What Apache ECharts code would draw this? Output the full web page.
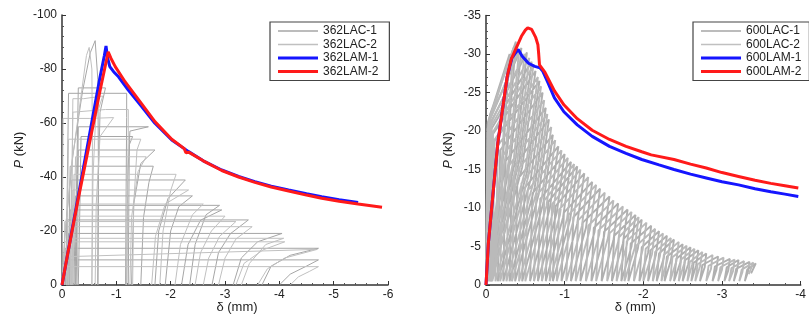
<!DOCTYPE html>
<html>
<head>
<meta charset="utf-8">
<script src="https://cdn.jsdelivr.net/npm/echarts@6/dist/echarts.min.js"></script>
<style>
html,body{margin:0;padding:0;background:#fff;}
#chart{width:809px;height:324px;}
</style>
</head>
<body>
<div id="chart"></div>
<script>
// ---------------- DATA ----------------
const leftNames = ['362LAC-1', '362LAC-2', '362LAM-1', '362LAM-2'];
const rightNames = ['600LAC-1', '600LAC-2', '600LAM-1', '600LAM-2'];

const leftXRange = [-6, 0];
const leftYRange = [-100, 0];
const rightXRange = [-4, 0];
const rightYRange = [-35, 0];

// cyclic specimen 362LAC-1 : one array per loading cycle
const left_LAC1 = [
  [[0,0],[-0.06,-20],[-0.2,-48],[-0.38,-72],[-0.52,-86],[-0.61,-90.5],[-0.66,-76],[-0.67,-45],[-0.66,0]],
  [[-0.66,0],[-0.67,-40],[-0.7,-64],[-0.8,-73],[-0.3,-73],[-0.27,-40],[-0.24,0]],
  [[-1.17,0],[-1.18,-35],[-1.19,-62],[-1.19,-71],[-0.6,-71],[-0.12,-71],[-0.1,-40],[-0.07,0]],
  [[-1.19,0],[-1.21,-40],[-1.25,-57],[-1.59,-58.6],[-0.3,-58.6],[-0.28,-30],[-0.25,0]],
  [[-1.22,0],[-1.23,-30],[-1.24,-52],[-1.3,-55],[-0.35,-55],[-0.33,-30],[-0.3,0]],
  [[-1.28,0],[-1.32,-30],[-1.45,-45],[-1.71,-50],[-0.3,-50],[-0.28,-25],[-0.26,0]],
  [[-1.45,0],[-1.5,-25],[-1.6,-38],[-1.68,-44],[-0.15,-44],[-0.13,-20],[-0.11,0]],
  [[-1.71,0],[-1.78,-20],[-1.95,-32],[-2.27,-38.9],[-0.18,-38.9],[-0.16,-20],[-0.14,0]],
  [[-1.9,0],[-2.0,-20],[-2.15,-29],[-2.4,-33],[-0.25,-33],[-0.22,0]],
  [[-2.2,0],[-2.32,-15],[-2.55,-24],[-2.94,-27.8],[-0.15,-27.8],[-0.13,0]],
  [[-2.35,0],[-2.45,-15],[-2.65,-26],[-2.9,-29.5],[-0.2,-29.5],[-0.18,0]],
  [[-2.76,0],[-2.88,-12],[-3.1,-19],[-3.43,-24.1],[-0.1,-24.1],[-0.08,0]],
  [[-3.15,0],[-3.3,-10],[-3.6,-16],[-4.05,-19.1],[-0.12,-19.1],[-0.1,0]],
  [[-3.68,0],[-3.85,-7],[-4.2,-11],[-4.72,-13.6],[-0.06,-13.6],[-0.05,0]],
  [[-4.0,0],[-4.2,-4],[-4.5,-7],[-4.72,-9.3],[-0.08,-9.3],[-0.07,0]]
];
// cyclic specimen 362LAC-2
const left_LAC2 = [
  [[0,0],[-0.05,-18],[-0.18,-45],[-0.35,-70],[-0.45,-85],[-0.5,-88],[-0.55,-80],[-0.56,-50],[-0.55,0]],
  [[-0.55,0],[-0.57,-40],[-0.62,-62],[-0.75,-70],[-0.4,-69],[-0.2,-69],[-0.18,-35],[-0.15,0]],
  [[-0.61,0],[-0.63,-30],[-0.7,-55],[-0.95,-62],[-0.5,-61.7],[-0.02,-61.7],[-0.01,-30],[0,0]],
  [[-1.19,0],[-1.2,-30],[-1.22,-55],[-1.22,-65],[-0.8,-65],[-0.2,-64],[-0.18,-30],[-0.16,0]],
  [[-1.3,0],[-1.32,-30],[-1.38,-50],[-1.45,-54],[-0.12,-54],[-0.1,-25],[-0.09,0]],
  [[-1.25,0],[-1.28,-25],[-1.4,-42],[-1.55,-47.5],[-0.25,-47.5],[-0.22,-20],[-0.2,0]],
  [[-1.8,0],[-1.86,-20],[-2.0,-35],[-2.1,-41],[-0.22,-41],[-0.2,0]],
  [[-1.65,0],[-1.72,-18],[-1.9,-30],[-2.33,-35.2],[-0.2,-35.2],[-0.18,0]],
  [[-2.08,0],[-2.18,-15],[-2.4,-26],[-2.6,-30],[-0.3,-30],[-0.28,0]],
  [[-2.45,0],[-2.55,-12],[-2.75,-20],[-3.0,-25.5],[-0.2,-25.5],[-0.18,0]],
  [[-2.6,0],[-2.7,-10],[-2.9,-18],[-3.2,-23.5],[-0.05,-23.5],[-0.04,0]],
  [[-2.88,0],[-3.0,-10],[-3.2,-17],[-3.5,-21.6],[-0.1,-21.6],[-0.08,0]],
  [[-3.2,0],[-3.35,-8],[-3.7,-13],[-4.1,-16],[-0.05,-16],[-0.04,0]],
  [[-3.3,0],[-3.45,-8],[-3.75,-15],[-4.08,-17.3],[-0.14,-17.3],[-0.12,0]],
  [[-3.6,0],[-3.78,-6],[-4.1,-10],[-4.7,-13.2],[-0.1,-10.5],[-0.08,0]],
  [[-4.2,0],[-4.35,-3],[-4.55,-5],[-4.72,-6.8],[-0.1,-6.8],[-0.09,0]]
];
// monotonic specimens
const left_LAM1 = [[0,0],[-0.1,-11],[-0.2,-22],[-0.3,-33],[-0.4,-44],[-0.5,-55],[-0.6,-66],[-0.7,-77],[-0.78,-85],[-0.81,-88.5],
  [-0.84,-84],[-0.88,-80.9],[-0.95,-79],[-1.04,-77.1],[-1.22,-72.2],[-1.47,-66],[-1.71,-59.9],[-2.02,-53.7],[-2.33,-49.4],
  [-2.6,-46],[-2.94,-42.6],[-3.25,-40.2],[-3.55,-38.3],[-3.85,-36.6],[-4.17,-35.2],[-4.5,-33.8],[-4.78,-32.7],[-5.1,-31.6],[-5.45,-30.6]];
const left_LAM2 = [[0,0],[-0.1,-11],[-0.2,-21.5],[-0.3,-32],[-0.4,-42],[-0.5,-52],[-0.6,-62],[-0.7,-72],[-0.8,-81.5],[-0.85,-86.4],
  [-0.9,-84],[-0.98,-80.9],[-1.16,-75.3],[-1.47,-67],[-1.71,-60.5],[-2.02,-54],[-2.25,-50.5],[-2.28,-49],[-2.33,-49.2],
  [-2.6,-46],[-2.94,-42.4],[-3.25,-40],[-3.55,-38],[-3.85,-36.3],[-4.17,-34.8],[-4.5,-33.3],[-4.78,-32.1],[-5.1,-31],[-5.45,-30],[-5.89,-28.8]];

// Right panel: cyclic 600 specimens, each cycle = residual, loading knee, peak, unloading knee
const right_LAC1 = [
  [[0,0],[-0.02,-21.0],[-0.30,-30.0],[-0.216,-16.5]],
  [[-0.02,-0.5],[-0.05,-22.1],[-0.38,-31.6],[-0.27,-17.4]],
  [[-0.02,-0.5],[-0.05,-21.6],[-0.45,-30.8],[-0.32,-16.9]],
  [[-0.03,-0.5],[-0.06,-21.1],[-0.52,-30.2],[-0.38,-16.6]],
  [[-0.04,-0.5],[-0.07,-20.3],[-0.58,-29.0],[-0.42,-16.0]],
  [[-0.05,-0.5],[-0.08,-19.5],[-0.63,-27.8],[-0.46,-15.3]],
  [[-0.07,-0.5],[-0.10,-18.6],[-0.68,-26.5],[-0.52,-14.6]],
  [[-0.15,-0.5],[-0.18,-17.5],[-0.72,-25.0],[-0.57,-13.8]],
  [[-0.22,-0.5],[-0.25,-16.1],[-0.76,-23.0],[-0.62,-12.7]],
  [[-0.30,-0.5],[-0.33,-15.0],[-0.80,-21.5],[-0.67,-11.8]],
  [[-0.37,-0.5],[-0.40,-13.7],[-0.85,-19.5],[-0.73,-10.7]],
  [[-0.46,-0.5],[-0.49,-12.6],[-0.92,-18.0],[-0.81,-9.9]],
  [[-0.56,-0.5],[-0.59,-11.9],[-1.00,-17.0],[-0.90,-9.4]],
  [[-0.66,-0.5],[-0.69,-11.2],[-1.08,-16.0],[-0.98,-8.8]],
  [[-0.76,-0.5],[-0.79,-10.8],[-1.16,-15.4],[-1.07,-8.5]],
  [[-0.85,-0.5],[-0.88,-10.2],[-1.25,-14.5],[-1.16,-8.0]],
  [[-0.96,-0.5],[-0.99,-9.4],[-1.35,-13.4],[-1.27,-7.4]],
  [[-1.08,-0.5],[-1.11,-8.8],[-1.45,-12.5],[-1.38,-6.9]],
  [[-1.20,-0.5],[-1.23,-8.1],[-1.57,-11.5],[-1.50,-6.3]],
  [[-1.34,-0.5],[-1.37,-7.4],[-1.68,-10.6],[-1.62,-5.8]],
  [[-1.47,-0.5],[-1.50,-6.9],[-1.80,-9.8],[-1.74,-5.4]],
  [[-1.60,-0.5],[-1.63,-6.4],[-1.90,-9.1],[-1.85,-5.0]],
  [[-1.72,-0.5],[-1.75,-6.0],[-1.98,-8.5],[-1.93,-4.7]],
  [[-1.81,-0.5],[-1.84,-5.4],[-2.10,-7.7],[-2.06,-4.2]],
  [[-1.95,-0.5],[-1.98,-4.9],[-2.20,-7.0],[-2.16,-3.9]],
  [[-2.06,-0.5],[-2.09,-4.5],[-2.30,-6.4],[-2.26,-3.5]],
  [[-2.17,-0.5],[-2.20,-4.1],[-2.39,-5.9],[-2.35,-3.2]],
  [[-2.27,-0.5],[-2.30,-3.7],[-2.50,-5.3],[-2.47,-2.9]],
  [[-2.39,-0.5],[-2.42,-3.4],[-2.60,-4.9],[-2.57,-2.7]],
  [[-2.50,-0.5],[-2.53,-3.2],[-2.70,-4.5],[-2.67,-2.5]],
  [[-2.61,-0.5],[-2.64,-2.9],[-2.80,-4.1],[-2.78,-2.3]],
  [[-2.72,-0.5],[-2.75,-2.6],[-2.95,-3.7],[-2.93,-2.0]],
  [[-2.88,-0.5],[-2.91,-2.4],[-3.10,-3.4],[-3.08,-1.9]],
  [[-3.03,-0.5],[-3.06,-2.3],[-3.21,-3.25],[-3.19,-1.8]],
  [[-3.15,-0.5],[-3.18,-2.1],[-3.35,-3.0],[-3.33,-1.7]],
  [[-3.29,-0.5],[-3.32,-2.0],[-3.43,-2.8]],
  [[-3.37,-1.5]]
];
const right_LAC2 = [
  [[0,0],[-0.02,-20.3],[-0.28,-29.0],[-0.20,-16.0]],
  [[-0.01,-0.5],[-0.04,-21.6],[-0.35,-30.8],[-0.25,-16.9]],
  [[-0.02,-0.5],[-0.05,-21.4],[-0.42,-30.5],[-0.30,-16.8]],
  [[-0.03,-0.5],[-0.06,-21.0],[-0.49,-30.0],[-0.355,-16.5]],
  [[-0.04,-0.5],[-0.07,-20.7],[-0.55,-29.5],[-0.40,-16.2]],
  [[-0.06,-0.5],[-0.09,-19.9],[-0.60,-28.4],[-0.44,-15.6]],
  [[-0.08,-0.5],[-0.11,-18.9],[-0.66,-27.0],[-0.50,-14.9]],
  [[-0.12,-0.5],[-0.15,-18.1],[-0.70,-25.8],[-0.54,-14.2]],
  [[-0.18,-0.5],[-0.21,-16.8],[-0.74,-24.0],[-0.60,-13.2]],
  [[-0.26,-0.5],[-0.29,-15.5],[-0.78,-22.2],[-0.645,-12.2]],
  [[-0.33,-0.5],[-0.36,-14.4],[-0.83,-20.5],[-0.71,-11.3]],
  [[-0.42,-0.5],[-0.45,-13.2],[-0.88,-18.8],[-0.77,-10.3]],
  [[-0.50,-0.5],[-0.53,-12.3],[-0.96,-17.5],[-0.855,-9.6]],
  [[-0.61,-0.5],[-0.64,-11.6],[-1.04,-16.5],[-0.94,-9.1]],
  [[-0.71,-0.5],[-0.74,-11.0],[-1.12,-15.7],[-1.03,-8.6]],
  [[-0.81,-0.5],[-0.84,-10.5],[-1.20,-15.0],[-1.11,-8.3]],
  [[-0.90,-0.5],[-0.93,-9.8],[-1.30,-14.0],[-1.22,-7.7]],
  [[-1.02,-0.5],[-1.05,-9.1],[-1.40,-13.0],[-1.32,-7.2]],
  [[-1.14,-0.5],[-1.17,-8.4],[-1.51,-12.0],[-1.44,-6.6]],
  [[-1.27,-0.5],[-1.30,-7.7],[-1.62,-11.0],[-1.55,-6.1]],
  [[-1.40,-0.5],[-1.43,-7.1],[-1.74,-10.2],[-1.68,-5.6]],
  [[-1.54,-0.5],[-1.57,-6.7],[-1.85,-9.5],[-1.79,-5.2]],
  [[-1.66,-0.5],[-1.69,-6.2],[-1.94,-8.8],[-1.89,-4.8]],
  [[-1.76,-0.5],[-1.79,-5.7],[-2.04,-8.1],[-1.99,-4.5]],
  [[-1.88,-0.5],[-1.91,-5.1],[-2.15,-7.3],[-2.11,-4.0]],
  [[-2.00,-0.5],[-2.03,-4.7],[-2.25,-6.7],[-2.21,-3.7]],
  [[-2.12,-0.5],[-2.15,-4.3],[-2.35,-6.1],[-2.31,-3.4]],
  [[-2.23,-0.5],[-2.26,-3.9],[-2.45,-5.6],[-2.42,-3.1]],
  [[-2.34,-0.5],[-2.37,-3.6],[-2.55,-5.1],[-2.52,-2.8]],
  [[-2.45,-0.5],[-2.48,-3.3],[-2.65,-4.7],[-2.62,-2.6]],
  [[-2.56,-0.5],[-2.59,-3.0],[-2.75,-4.3],[-2.72,-2.4]],
  [[-2.66,-0.5],[-2.69,-2.7],[-2.88,-3.9],[-2.86,-2.1]],
  [[-2.80,-0.5],[-2.83,-2.5],[-3.02,-3.55],[-3.00,-2.0]],
  [[-2.95,-0.5],[-2.98,-2.3],[-3.16,-3.3],[-3.14,-1.8]],
  [[-3.09,-0.5],[-3.12,-2.2],[-3.28,-3.1],[-3.26,-1.7]],
  [[-3.22,-0.5],[-3.25,-2.0],[-3.40,-2.9]],
  [[-3.34,-1.4]]
];
const right_LAM1 = [[0,0],[-0.03,-5.4],[-0.07,-9.75],[-0.11,-14.1],[-0.15,-18.4],[-0.21,-22.8],[-0.27,-27.1],[-0.33,-29.5],[-0.41,-30.6],
  [-0.46,-29.7],[-0.54,-28.8],[-0.62,-28.4],[-0.685,-28.2],[-0.72,-27.8],[-0.79,-26.2],[-0.87,-24.3],[-0.99,-22.5],[-1.16,-20.8],
  [-1.35,-19.3],[-1.57,-18.0],[-1.78,-17.1],[-1.98,-16.3],[-2.2,-15.6],[-2.39,-15.0],[-2.6,-14.4],[-2.8,-13.9],[-3.0,-13.4],
  [-3.21,-13.0],[-3.42,-12.5],[-3.62,-12.1],[-3.8,-11.8],[-3.97,-11.5]];
const right_LAM2 = [[0,0],[-0.03,-5.4],[-0.07,-9.75],[-0.11,-14.1],[-0.15,-18.4],[-0.21,-22.8],[-0.27,-27.1],[-0.32,-29.3],[-0.385,-30.8],
  [-0.45,-32.3],[-0.5,-33.1],[-0.53,-33.4],[-0.58,-33.2],[-0.63,-32.2],[-0.66,-31.2],[-0.67,-30.0],[-0.68,-28.6],[-0.75,-27.6],
  [-0.87,-25.2],[-0.99,-23.4],[-1.16,-21.6],[-1.35,-20.1],[-1.57,-18.9],[-1.78,-18.0],[-1.98,-17.3],[-2.1,-16.9],[-2.39,-16.3],
  [-2.6,-15.7],[-2.8,-15.2],[-3.0,-14.6],[-3.21,-14.1],[-3.42,-13.6],[-3.62,-13.2],[-3.8,-12.9],[-3.97,-12.6]];

// ---------------- STYLE ----------------
const FONT = 'Liberation Sans, Arial, sans-serif';
const grayDark = '#a6a6a6';
const grayLight = '#c0c0c0';
const blue = '#1515ff';
const red = '#ff1a1a';

function cycleSeries(name, cycles, color, gi, w) {
  return cycles.map(c => ({
    name: name, type: 'line', xAxisIndex: gi, yAxisIndex: gi,
    data: c, showSymbol: false, symbol: 'none', silent: true,
    lineStyle: {color: color, width: w}, itemStyle: {color: color}, z: 2
  }));
}
function pathSeries(name, cycles, color, gi, w) {
  return [{
    name: name, type: 'line', xAxisIndex: gi, yAxisIndex: gi,
    data: [].concat(...cycles), showSymbol: false, symbol: 'none', silent: true,
    lineStyle: {color: color, width: w}, itemStyle: {color: color}, z: 2
  }];
}
function monoSeries(name, data, color, gi) {
  return [{
    name: name, type: 'line', xAxisIndex: gi, yAxisIndex: gi,
    data: data, showSymbol: false, symbol: 'none', silent: true,
    lineStyle: {color: color, width: 3}, itemStyle: {color: color}, z: 3
  }];
}

function xAxisCfg(gi, range, padding) {
  return {
    type: 'value', gridIndex: gi, min: range[0], max: range[1], interval: 1, inverse: true,
    name: 'δ (mm)', nameLocation: 'middle', nameGap: 16, nameMoveOverlap: false,
    nameTextStyle: {fontFamily: FONT, fontSize: 13, color: '#222', padding: padding},
    axisLine: {show: true, onZero: false, lineStyle: {color: '#333', width: 1.5}},
    axisTick: {show: true, inside: true, length: 4, lineStyle: {color: '#333'}},
    minorTick: {show: true, splitNumber: 5, length: 2, lineStyle: {color: '#555'}},
    axisLabel: {fontFamily: FONT, fontSize: 12, color: '#222', margin: 4},
    splitLine: {show: false}, minorSplitLine: {show: false}
  };
}
function yAxisCfg(gi, range, interval, gap) {
  return {
    type: 'value', gridIndex: gi, min: range[0], max: range[1], interval: interval, inverse: true,
    name: '{i|P} (kN)', nameLocation: 'middle', nameGap: gap, nameRotate: 90,
    nameTextStyle: {fontFamily: FONT, fontSize: 13, color: '#222',
      rich: {i: {fontStyle: 'italic', fontFamily: FONT, fontSize: 13, color: '#222'}}},
    axisLine: {show: true, onZero: false, lineStyle: {color: '#333', width: 1.5}},
    axisTick: {show: true, inside: true, length: 4, lineStyle: {color: '#333'}},
    minorTick: {show: true, splitNumber: 5, length: 2, lineStyle: {color: '#555'}},
    axisLabel: {fontFamily: FONT, fontSize: 12, color: '#222', margin: 5},
    splitLine: {show: false}, minorSplitLine: {show: false}
  };
}
function legendCfg(names, left, padding) {
  const widths = [1.5, 1.5, 3, 3];
  const colors = [grayDark, grayLight, blue, red];
  return {
    data: names.map((n, i) => ({
      name: n,
      icon: 'path://M0,0L40,0L40,' + widths[i] + 'L0,' + widths[i] + 'Z',
      itemStyle: {color: colors[i]}
    })),
    orient: 'vertical', left: left, top: 22,
    itemWidth: 40, itemHeight: 14, itemGap: 1.5, padding: padding,
    borderColor: '#444', borderWidth: 1.2, backgroundColor: '#fff',
    textStyle: {fontFamily: FONT, fontSize: 12, color: '#222'},
    selectedMode: false
  };
}

const chart = echarts.init(document.getElementById('chart'), null, {renderer: 'canvas'});
const series = [].concat(
  cycleSeries(leftNames[0], left_LAC1, grayDark, 0, 1),
  cycleSeries(leftNames[1], left_LAC2, grayLight, 0, 1),
  monoSeries(leftNames[2], left_LAM1, blue, 0),
  monoSeries(leftNames[3], left_LAM2, red, 0),
  pathSeries(rightNames[0], right_LAC1, '#b0b0b0', 1, 1.9),
  pathSeries(rightNames[1], right_LAC2, '#bababa', 1, 1.9),
  monoSeries(rightNames[2], right_LAM1, blue, 1),
  monoSeries(rightNames[3], right_LAM2, red, 1)
);

chart.setOption({
  animation: false,
  backgroundColor: '#fff',
  grid: [
    {left: 62, top: 15, width: 326, height: 270},
    {left: 486, top: 15.5, width: 325.5, height: 269.5}
  ],
  xAxis: [xAxisCfg(0, leftXRange, [0,0,0,24]), xAxisCfg(1, rightXRange, [0,16,0,0])],
  yAxis: [yAxisCfg(0, leftYRange, 20, 36), yAxisCfg(1, rightYRange, 5, 31)],
  legend: [legendCfg(leftNames, 270, [3,11,3,8]), legendCfg(rightNames, 693, [3,8,3,8])],
  series: series
});
</script>
</body>
</html>
